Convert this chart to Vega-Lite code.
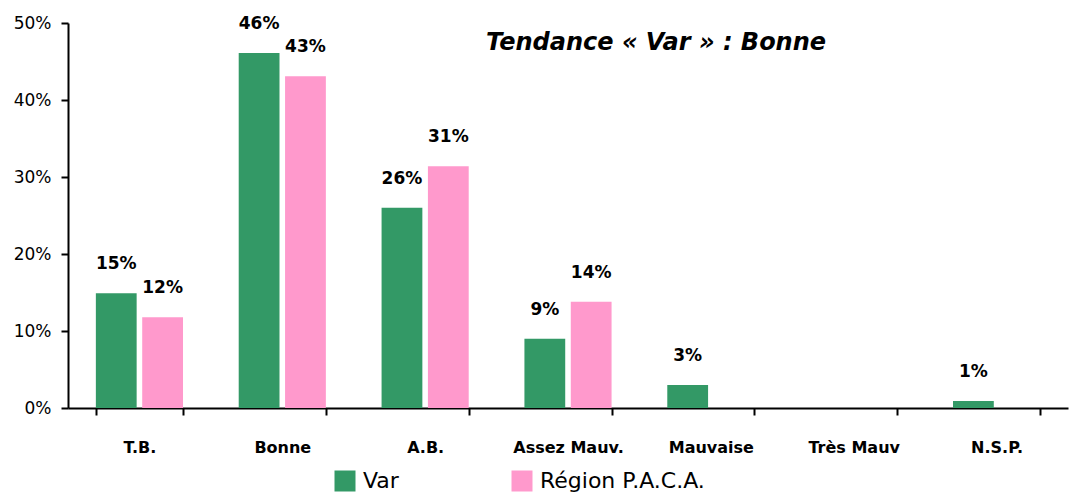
{
  "$schema": "https://vega.github.io/schema/vega-lite/v6.json",
  "width": 1000,
  "height": 385,
  "autosize": {"type": "none"},
  "padding": {"left": 68, "top": 23, "right": 1, "bottom": 84},
  "background": "white",
  "config": {
    "view": {"stroke": null},
    "font": "DejaVu Sans",
    "axis": {"grid": false, "domainColor": "black", "tickColor": "black", "domainWidth": 2, "tickWidth": 2, "labelColor": "black", "labelFont": "DejaVu Sans"}
  },
  "title": {
    "text": "Tendance « Var » : Bonne",
    "anchor": "middle",
    "dx": 88,
    "dy": 45,
    "fontSize": 24,
    "fontWeight": "bold",
    "fontStyle": "italic",
    "font": "DejaVu Sans",
    "color": "black"
  },
  "data": {
    "values": [
      {"cat": "T.B.", "serie": "Var", "v": 0.149},
      {"cat": "T.B.", "serie": "Région P.A.C.A.", "v": 0.118},
      {"cat": "Bonne", "serie": "Var", "v": 0.461},
      {"cat": "Bonne", "serie": "Région P.A.C.A.", "v": 0.431},
      {"cat": "A.B.", "serie": "Var", "v": 0.26},
      {"cat": "A.B.", "serie": "Région P.A.C.A.", "v": 0.314},
      {"cat": "Assez Mauv.", "serie": "Var", "v": 0.09},
      {"cat": "Assez Mauv.", "serie": "Région P.A.C.A.", "v": 0.138},
      {"cat": "Mauvaise", "serie": "Var", "v": 0.03},
      {"cat": "N.S.P.", "serie": "Var", "v": 0.009}
    ]
  },
  "encoding": {
    "x": {
      "field": "cat",
      "type": "nominal",
      "scale": {"domain": ["T.B.", "Bonne", "A.B.", "Assez Mauv.", "Mauvaise", "Très Mauv", "N.S.P."], "paddingInner": 0.39, "paddingOuter": 0.195},
      "axis": {"title": null, "labelAngle": 0, "tickBand": "extent", "tickSize": 7, "labelFontSize": 16, "labelFontWeight": "bold", "labelPadding": 24}
    },
    "xOffset": {
      "field": "serie",
      "type": "nominal",
      "scale": {"domain": ["Var", "Région P.A.C.A."], "paddingInner": 0.12, "paddingOuter": 0}
    },
    "y": {
      "field": "v",
      "type": "quantitative",
      "scale": {"domain": [0, 0.5], "nice": false},
      "axis": {"title": null, "format": ".0%", "values": [0, 0.1, 0.2, 0.3, 0.4, 0.5], "tickSize": 7, "labelFontSize": 17, "labelPadding": 10}
    }
  },
  "layer": [
    {
      "mark": {"type": "bar"},
      "encoding": {
        "color": {
          "field": "serie",
          "type": "nominal",
          "scale": {"domain": ["Var", "Région P.A.C.A."], "range": ["#339966", "#FF99CC"]},
          "legend": {
            "title": null,
            "orient": "none",
            "direction": "horizontal",
            "legendX": 266,
            "legendY": 447,
            "padding": 0,
            "symbolType": "square",
            "symbolSize": 441,
            "symbolStrokeWidth": 0,
            "symbolOpacity": 1,
            "labelFontSize": 22,
            "labelLimit": 400,
            "labelFont": "DejaVu Sans",
            "labelColor": "black",
            "labelOffset": 7,
            "columnPadding": 112
          }
        }
      }
    },
    {
      "mark": {"type": "text", "baseline": "middle", "dy": -29, "fontSize": 17, "fontWeight": "bold", "color": "black"},
      "encoding": {
        "text": {"field": "v", "type": "quantitative", "format": ".0%"}
      }
    }
  ]
}
